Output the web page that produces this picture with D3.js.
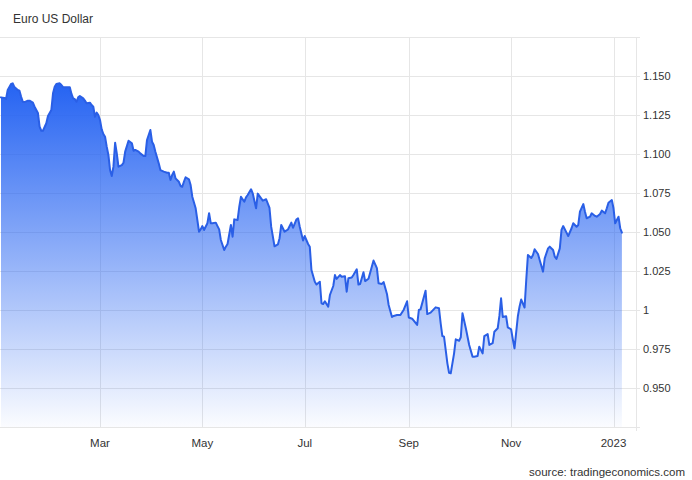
<!DOCTYPE html>
<html>
<head>
<meta charset="utf-8">
<script src="https://cdn.jsdelivr.net/npm/d3@7"></script>
<style>
  html, body { margin: 0; padding: 0; background: #fff; }
  svg { display: block; font-family: "Liberation Sans", Arial, sans-serif; }
</style>
</head>
<body>
<svg id="chart" width="692" height="480"></svg>
<script>
const title = "Euro US Dollar";
const sourceText = "source: tradingeconomics.com";

const dates = [
"2022-01-01","2022-01-03","2022-01-04","2022-01-05","2022-01-07","2022-01-08","2022-01-09","2022-01-11","2022-01-12","2022-01-13",
"2022-01-14","2022-01-15","2022-01-17","2022-01-18","2022-01-20","2022-01-21","2022-01-23","2022-01-24","2022-01-25","2022-01-26",
"2022-01-28","2022-01-29","2022-01-31","2022-02-01","2022-02-02","2022-02-03","2022-02-05","2022-02-06","2022-02-07","2022-02-09",
"2022-02-11","2022-02-12","2022-02-13","2022-02-14","2022-02-15","2022-02-16","2022-02-17","2022-02-19","2022-02-20","2022-02-21",
"2022-02-23","2022-02-24","2022-02-25","2022-02-26","2022-02-27","2022-02-28","2022-03-01","2022-03-02","2022-03-03","2022-03-04",
"2022-03-05","2022-03-06","2022-03-07","2022-03-08","2022-03-09","2022-03-10","2022-03-11","2022-03-12","2022-03-14","2022-03-15",
"2022-03-16","2022-03-18","2022-03-20","2022-03-21","2022-03-22","2022-03-24","2022-03-25","2022-03-27","2022-03-28","2022-03-29",
"2022-03-31","2022-04-01","2022-04-02","2022-04-03","2022-04-05","2022-04-06","2022-04-08","2022-04-10","2022-04-11","2022-04-12",
"2022-04-13","2022-04-14","2022-04-15","2022-04-17","2022-04-18","2022-04-19","2022-04-20","2022-04-21","2022-04-23","2022-04-24",
"2022-04-25","2022-04-27","2022-04-28","2022-04-29","2022-04-30","2022-05-01","2022-05-02","2022-05-04","2022-05-05","2022-05-06",
"2022-05-07","2022-05-09","2022-05-10","2022-05-11","2022-05-12","2022-05-14","2022-05-15","2022-05-16","2022-05-18","2022-05-19",
"2022-05-20","2022-05-22","2022-05-23","2022-05-24","2022-05-26","2022-05-27","2022-05-28","2022-05-30","2022-05-31","2022-06-02",
"2022-06-03","2022-06-05","2022-06-06","2022-06-08","2022-06-10","2022-06-11","2022-06-13","2022-06-15","2022-06-16","2022-06-17",
"2022-06-19","2022-06-21","2022-06-23","2022-06-24","2022-06-26","2022-06-27","2022-06-28","2022-06-30","2022-07-01","2022-07-03",
"2022-07-04","2022-07-05","2022-07-07","2022-07-08","2022-07-10","2022-07-11","2022-07-12","2022-07-13","2022-07-15","2022-07-16",
"2022-07-18","2022-07-19","2022-07-20","2022-07-22","2022-07-23","2022-07-25","2022-07-26","2022-07-27","2022-07-29","2022-07-30",
"2022-08-01","2022-08-02","2022-08-03","2022-08-05","2022-08-06","2022-08-08","2022-08-10","2022-08-11","2022-08-13","2022-08-14",
"2022-08-16","2022-08-17","2022-08-19","2022-08-20","2022-08-22","2022-08-23","2022-08-25","2022-08-27","2022-08-29","2022-08-31",
"2022-09-01","2022-09-03","2022-09-06","2022-09-07","2022-09-08","2022-09-11","2022-09-12","2022-09-14","2022-09-17","2022-09-19",
"2022-09-20","2022-09-21","2022-09-22","2022-09-24","2022-09-25","2022-09-26","2022-09-28","2022-09-29","2022-10-01","2022-10-02",
"2022-10-03","2022-10-05","2022-10-07","2022-10-09","2022-10-10","2022-10-12","2022-10-13","2022-10-15","2022-10-16","2022-10-18",
"2022-10-19","2022-10-21","2022-10-22","2022-10-24","2022-10-25","2022-10-26","2022-10-27","2022-10-29","2022-10-30","2022-11-01",
"2022-11-02","2022-11-03","2022-11-05","2022-11-06","2022-11-07","2022-11-09","2022-11-10","2022-11-11","2022-11-13","2022-11-14",
"2022-11-15","2022-11-17","2022-11-18","2022-11-20","2022-11-21","2022-11-23","2022-11-24","2022-11-26","2022-11-27","2022-11-28",
"2022-11-30","2022-12-01","2022-12-02","2022-12-04","2022-12-05","2022-12-07","2022-12-08","2022-12-10","2022-12-11","2022-12-12",
"2022-12-14","2022-12-15","2022-12-16","2022-12-18","2022-12-19","2022-12-21","2022-12-22","2022-12-24","2022-12-25","2022-12-27",
"2022-12-28","2022-12-29","2022-12-31","2023-01-01","2023-01-02","2023-01-04","2023-01-05","2023-01-06"
];

const values = [
1.1363,1.1359,1.1353,1.1410,1.1449,1.1453,1.1429,1.1410,1.1406,1.1367,
1.1335,1.1333,1.1342,1.1342,1.1329,1.1303,1.1263,1.1175,1.1149,1.1149,
1.1197,1.1244,1.1282,1.1389,1.1431,1.1449,1.1453,1.1442,1.1428,1.1428,
1.1428,1.1385,1.1357,1.1351,1.1335,1.1363,1.1372,1.1357,1.1342,1.1325,
1.1329,1.1314,1.1303,1.1239,1.1265,1.1250,1.1218,1.1158,1.1128,1.1111,
1.1047,1.0994,1.0897,1.0859,1.0919,1.1072,1.1004,1.0919,1.0929,1.0944,
1.1015,1.1085,1.1069,1.1021,1.1026,1.1015,1.1004,1.0987,1.0987,1.1090,
1.1154,1.1079,1.1058,1.1015,1.0940,1.0897,1.0887,1.0880,1.0880,1.0833,
1.0865,1.0887,1.0844,1.0822,1.0795,1.0790,1.0822,1.0851,1.0838,1.0801,
1.0726,1.0652,1.0577,1.0502,1.0517,1.0538,1.0513,1.0556,1.0620,1.0556,
1.0556,1.0560,1.0538,1.0517,1.0449,1.0385,1.0406,1.0423,1.0545,1.0470,
1.0581,1.0577,1.0662,1.0726,1.0694,1.0722,1.0737,1.0774,1.0748,1.0652,
1.0746,1.0716,1.0701,1.0710,1.0654,1.0534,1.0408,1.0420,1.0460,1.0545,
1.0502,1.0516,1.0560,1.0527,1.0580,1.0588,1.0535,1.0446,1.0474,1.0423,
1.0406,1.0256,1.0181,1.0163,1.0181,1.0043,1.0038,1.0056,1.0021,1.0096,
1.0154,1.0224,1.0199,1.0224,1.0213,1.0216,1.0117,1.0203,1.0208,1.0224,
1.0261,1.0163,1.0167,1.0242,1.0185,1.0200,1.0279,1.0317,1.0269,1.0171,
1.0167,1.0179,1.0103,1.0032,0.9955,0.9962,0.9968,0.9968,1.0002,1.0056,
0.9952,0.9944,0.9904,1.0000,1.0004,1.0124,0.9974,0.9983,1.0017,1.0011,
0.9915,0.9833,0.9829,0.9658,0.9598,0.9594,0.9722,0.9812,0.9803,0.9825,
0.9979,0.9883,0.9776,0.9701,0.9701,0.9705,0.9765,0.9722,0.9833,0.9846,
0.9776,0.9787,0.9861,0.9883,0.9962,1.0075,0.9955,0.9960,0.9889,0.9876,
0.9812,0.9754,0.9960,1.0021,1.0067,1.0016,1.0192,1.0353,1.0333,1.0353,
1.0389,1.0359,1.0321,1.0246,1.0331,1.0395,1.0406,1.0385,1.0342,1.0327,
1.0395,1.0513,1.0538,1.0496,1.0474,1.0524,1.0556,1.0534,1.0545,1.0630,
1.0679,1.0630,1.0588,1.0598,1.0620,1.0603,1.0598,1.0615,1.0637,1.0620,
1.0652,1.0688,1.0705,1.0652,1.0556,1.0598,1.0524,1.0496
];

const yTicks = [0.950, 0.975, 1.000, 1.025, 1.050, 1.075, 1.100, 1.125, 1.150];
const yTickLabels = ["0.950", "0.975", "1", "1.025", "1.050", "1.075", "1.100", "1.125", "1.150"];
const yGrid = [0.925, 0.950, 0.975, 1.000, 1.025, 1.050, 1.075, 1.100, 1.125, 1.150, 1.175];
const xTicks = ["2022-03-01", "2022-05-01", "2022-07-01", "2022-09-01", "2022-11-01", "2023-01-01"];
const xTickLabels = ["Mar", "May", "Jul", "Sep", "Nov", "2023"];
const xDomain = ["2022-01-01", "2023-01-15"];
const yDomain = [0.925, 1.175];

const parse = d3.utcParse("%Y-%m-%d");
const data = dates.map((d, i) => ({ date: parse(d), value: values[i] }));

const plot = { left: 1, right: 637, top: 37, bottom: 427 };
const svg = d3.select("#chart");

const x = d3.scaleUtc().domain(xDomain.map(parse)).range([plot.left, plot.right]);
const y = d3.scaleLinear().domain(yDomain).range([plot.bottom, plot.top]);

// gradient
const defs = svg.append("defs");
const grad = defs.append("linearGradient").attr("id", "fillGrad")
  .attr("x1", 0).attr("y1", 0).attr("x2", 0).attr("y2", 1);
grad.append("stop").attr("offset", "0%").attr("stop-color", "#2563f2").attr("stop-opacity", 1);
grad.append("stop").attr("offset", "100%").attr("stop-color", "#2563f2").attr("stop-opacity", 0.02);

defs.append("clipPath").attr("id", "plotClip").append("rect")
  .attr("x", 0).attr("y", plot.top).attr("width", plot.right).attr("height", plot.bottom - plot.top);

// grid
const grid = svg.append("g");
grid.selectAll("line.h").data(yGrid).join("line")
  .attr("x1", 0).attr("x2", 640)
  .attr("y1", d => Math.round(y(d)) + 0.5).attr("y2", d => Math.round(y(d)) + 0.5)
  .attr("stroke", "#e6e6e6").attr("stroke-width", 1);
grid.selectAll("line.v").data(xTicks.map(parse)).join("line")
  .attr("x1", d => Math.round(x(d)) + 0.5).attr("x2", d => Math.round(x(d)) + 0.5)
  .attr("y1", plot.top).attr("y2", plot.bottom)
  .attr("stroke", "#e6e6e6").attr("stroke-width", 1);
grid.append("line")
  .attr("x1", plot.right - 0.5).attr("x2", plot.right - 0.5)
  .attr("y1", plot.top).attr("y2", plot.bottom + 4)
  .attr("stroke", "#e6e6e6").attr("stroke-width", 1);

// area + line
const g = svg.append("g").attr("clip-path", "url(#plotClip)");
const area = d3.area().x(d => x(d.date)).y0(plot.bottom).y1(d => y(d.value));
const line = d3.line().x(d => x(d.date)).y(d => y(d.value));
g.append("path").datum(data).attr("d", area).attr("fill", "url(#fillGrad)");
g.append("path").datum(data).attr("d", line)
  .attr("fill", "none").attr("stroke", "#2a5fe6").attr("stroke-width", 2)
  .attr("stroke-linejoin", "round").attr("stroke-linecap", "round");

// y labels
svg.append("g").selectAll("text").data(yTicks).join("text")
  .attr("x", 643).attr("y", d => y(d)).attr("dy", "0.35em")
  .attr("font-size", 11).attr("fill", "#333")
  .text((d, i) => yTickLabels[i]);

// x labels
svg.append("g").selectAll("text").data(xTicks).join("text")
  .attr("x", d => x(parse(d))).attr("y", 447)
  .attr("text-anchor", "middle").attr("font-size", 11.5).attr("fill", "#333")
  .text((d, i) => xTickLabels[i]);

// title
svg.append("text").attr("x", 13).attr("y", 23)
  .attr("font-size", 12).attr("fill", "#333").text(title);

// source
svg.append("text").attr("x", 685).attr("y", 476).attr("text-anchor", "end")
  .attr("font-size", 11.5).attr("fill", "#333").text(sourceText);
</script>
</body>
</html>
